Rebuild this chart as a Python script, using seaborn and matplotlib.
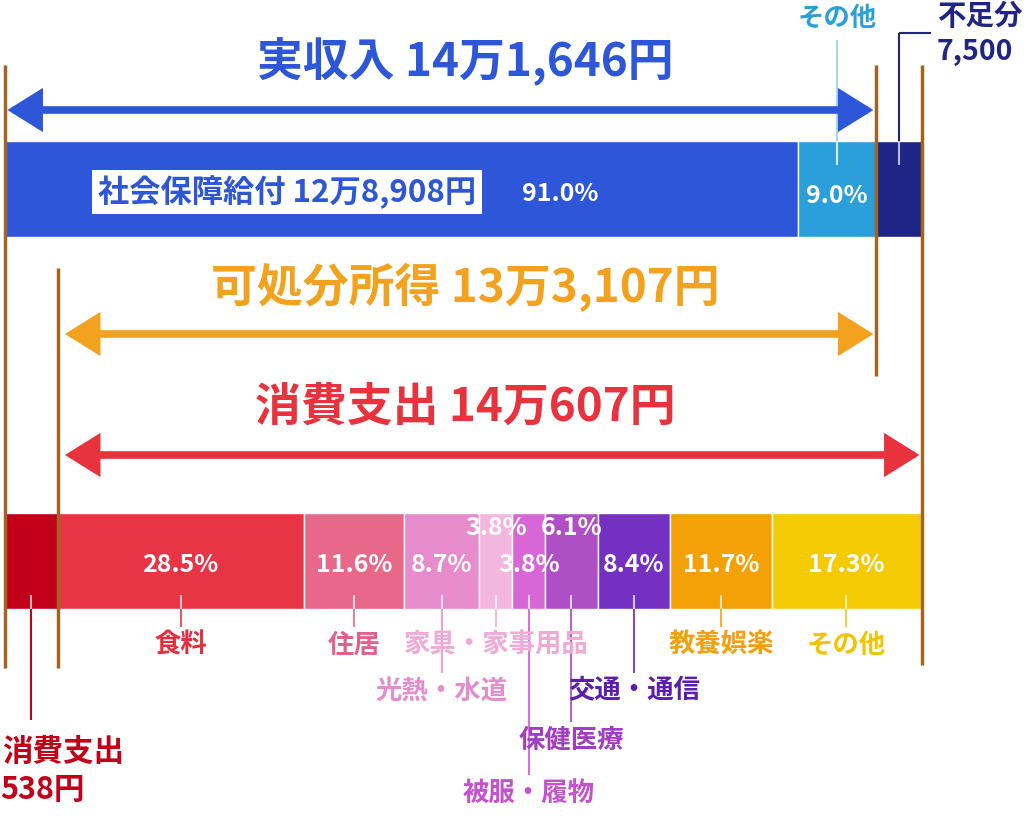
import seaborn as sns
import numpy as np
import matplotlib.pyplot as plt

# --- data (yen / percent) ---
income_total = 141646          # 実収入
disposable = 133107            # 可処分所得
consumption = 140607           # 消費支出
shortfall = 7500               # 不足分
social_security = 128908       # 社会保障給付

income_labels = ['社会保障給付', 'その他', '不足分']
income_values = [social_security, income_total - social_security, shortfall]
income_pcts = ['91.0%', '9.0%', '']
income_colors = ['#2d57d8', '#2a9fd9', '#1f2584']

non_consumption = income_total - disposable   # 非消費支出

spend_labels = ['食料', '住居', '光熱・水道', '家具・家事用品', '被服・履物',
                '保健医療', '交通・通信', '教養娯楽', 'その他']
spend_pcts = [28.5, 11.6, 8.7, 3.8, 3.8, 6.1, 8.4, 11.7, 17.3]
spend_colors = ['#e83546', '#e8688a', '#e68bcb', '#f3b6df', '#d766d6',
                '#ae4fc6', '#7430c0', '#f4a007', '#f4ca05']
spend_text_colors = ['#e0303f', '#e0628a', '#e48ccc', '#f0aad6', '#c452cf',
                     '#a03dc0', '#5a1eae', '#f0a010', '#f0c400']
# row (pixel y) of the category label below the bar
spend_label_y = [645, 645, 691, 645, 793, 740, 691, 645, 645]
spend_pct_y = [565, 565, 565, 528, 565, 528, 565, 565, 565]

sns.set_theme(style='white')
plt.rcParams['font.family'] = ['Noto Sans CJK JP', 'DejaVu Sans']
plt.rcParams['font.weight'] = 'bold'

fig = plt.figure(figsize=(10.24, 8.17), dpi=100)
ax = fig.add_axes([0, 0, 1, 1])

# x axis in yen, y axis in pixels (top = 0)
px_per_yen = 917 / (income_total + shortfall)
ax.set_xlim(-5 / px_per_yen, (1024 - 5) / px_per_yen)
ax.set_ylim(817, 0)
ax.axis('off')

brown = '#a2641f'
blue = '#2d57d8'
orange = '#f2a21e'
red = '#e8333f'

# --- income bar ---
income_left = np.concatenate([[0], np.cumsum(income_values)[:-1]])
ax.barh(189, income_values, left=income_left, height=96, color=income_colors, zorder=2)

# --- spending bar ---
spend_values = np.array(spend_pcts) / 100 * consumption
spend_left = non_consumption + np.concatenate([[0], np.cumsum(spend_values)[:-1]])
ax.barh(561, [non_consumption], left=[0], height=96, color='#c20019', zorder=2)
ax.barh(561, spend_values, left=spend_left, height=96, color=spend_colors, zorder=2)

# --- brown guide lines ---
ax.vlines(0, 65, 668, color=brown, lw=2.5, zorder=3)
ax.vlines(income_total, 65, 376, color=brown, lw=2.5, zorder=3)
ax.vlines(income_total + shortfall, 65, 665, color=brown, lw=2.5, zorder=3)
ax.vlines(non_consumption, 268, 668, color=brown, lw=2.5, zorder=3)


def double_arrow(x0, x1, y, color):
    ax.annotate('', xy=(x1, y), xytext=(x0, y),
                arrowprops=dict(arrowstyle='<|-|>,head_length=0.8,head_width=0.5',
                                mutation_scale=22, lw=5.5, color=color,
                                shrinkA=0, shrinkB=0, joinstyle='miter'),
                zorder=4)


# --- headline arrows ---
pad = 2.5 / px_per_yen
title_x = (465 - 5) / px_per_yen
ax.text(title_x, 62, '実収入 14万1,646円', color=blue,
        fontsize=33, ha='center', va='center')
double_arrow(pad, income_total - pad, 110, blue)

ax.text(title_x, 288, '可処分所得 13万3,107円', color=orange,
        fontsize=33, ha='center', va='center')
double_arrow(non_consumption + 3 * pad, income_total - pad, 334, orange)

ax.text(title_x, 408, '消費支出 14万607円',
        color=red, fontsize=33, ha='center', va='center')
double_arrow(non_consumption + 3 * pad, income_total + shortfall - pad, 455, red)

# --- income labels ---
ax.text(93 / px_per_yen, 192, '社会保障給付 12万8,908円', color=blue, fontsize=22.5,
        ha='left', va='center', zorder=5,
        bbox=dict(facecolor='white', edgecolor='none', pad=4))
ax.text(income_values[0] * 0.7, 194, income_pcts[0], color='white', fontsize=18,
        ha='center', va='center', zorder=5)
other_c = income_left[1] + income_values[1] / 2
ax.text(other_c, 196, income_pcts[1], color='white', fontsize=18,
        ha='center', va='center', zorder=5)
ax.text(other_c, 18, income_labels[1], color='#2aa0d8', fontsize=19,
        ha='center', va='center')
ax.vlines(other_c, 40, 141, color='#2aa0d8', lw=1.2, alpha=0.5, zorder=3)
ax.vlines(other_c, 141, 165, color='#d6ecf8', lw=1.5, zorder=3)

short_c = income_left[2] + income_values[2] / 2
ax.vlines(short_c, 33, 141, color='#1f2584', lw=1.5, zorder=3)
ax.vlines(short_c, 141, 165, color='#b8bce0', lw=1.5, zorder=3)
ax.hlines(33, short_c, short_c + 32 / px_per_yen, color='#1f2584', lw=1.5)
ax.text(short_c + 38 / px_per_yen, 17, income_labels[2], color='#1f2584', fontsize=20.5,
        ha='left', va='center')
ax.text(short_c + 38 / px_per_yen, 52, '7,500', color='#1f2584', fontsize=20.5,
        ha='left', va='center')

# --- spending labels ---
spend_centers = spend_left + spend_values / 2
for c, lab, pct, col, ly, py in zip(spend_centers, spend_labels, spend_pcts,
                                    spend_text_colors, spend_label_y, spend_pct_y):
    ax.text(c, py, f'{pct}%', color='white', fontsize=18, ha='center', va='center',
            zorder=5)
    ax.vlines(c, 595, 609, color='white', lw=1.5, alpha=0.7, zorder=3)
    ax.vlines(c, 609, ly - 18, color=col, lw=1.5, alpha=0.8, zorder=3)
    ax.text(c, ly, lab, color=col, fontsize=19, ha='center', va='center', zorder=5)

# non-consumption (cut off at the left edge in the original)
nc_c = non_consumption / 2
ax.vlines(nc_c, 595, 609, color='white', lw=1.5, alpha=0.7, zorder=3)
ax.vlines(nc_c, 609, 720, color='#c20019', lw=1.5, zorder=3)
ax.text(-3 / px_per_yen, 752, '消費支出', color='#c20019', fontsize=22, ha='left', va='center')
ax.text(-5 / px_per_yen, 790, '538円', color='#c20019', fontsize=22, ha='left', va='center')

plt.savefig('out.png', dpi=100, facecolor='white')
